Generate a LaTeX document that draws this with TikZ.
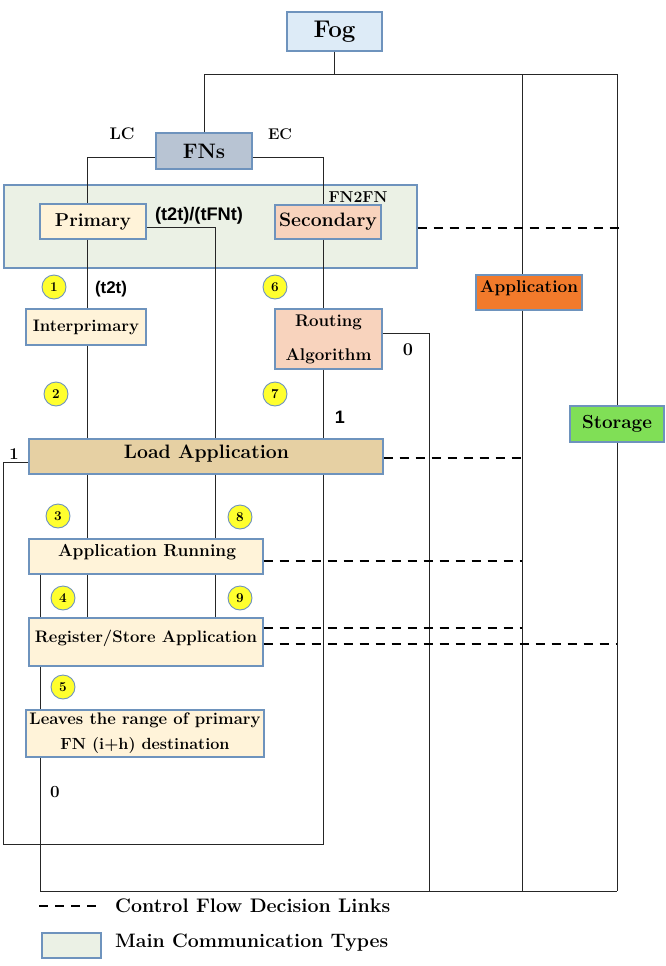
\documentclass[tikz,border=0pt]{standalone}
\usepackage{fontspec}
\usepackage{graphicx}
\newfontfamily\sansbf{Liberation Sans}
\definecolor{bordc}{HTML}{6E93BD}
\definecolor{fogc}{HTML}{DDEBF7}
\definecolor{fnsc}{HTML}{B8C4D3}
\definecolor{grpc}{HTML}{EBF1E5}
\definecolor{cream}{HTML}{FFF3D9}
\definecolor{peach}{HTML}{F8D3BD}
\definecolor{orng}{HTML}{F27A2B}
\definecolor{storc}{HTML}{80DF56}
\definecolor{loadc}{HTML}{E6D0A3}
\definecolor{yel}{HTML}{FFFF2E}
\newcommand{\fsz}[2]{\fontsize{#1}{#2}\selectfont\bfseries}
\newcommand{\fitw}[2]{\resizebox{#1}{!}{#2}}
\tikzset{
  ln/.style={line width=1pt, draw=black!85},
  dsh/.style={line width=2.6pt, draw=black, dash pattern=on 9pt off 7pt},
  bx/.style={draw=bordc, line width=1.3pt, inner sep=0pt, align=center},
  num/.style={circle, draw=bordc, fill=yel, line width=0.9pt, minimum size=24pt, inner sep=0pt, font=\fsz{13.5}{14}},
  lbl/.style={inner sep=0pt, align=center, font=\fsz{18}{20}},
}
\begin{document}
\begin{tikzpicture}[x=1pt,y=-1pt]
\useasboundingbox (0,0) rectangle (665,966);
% group box
\node[bx, fill=grpc, minimum width=413pt, minimum height=83pt] (grp) at (210.5,226.5) {};
% boxes
\node[bx, fill=fogc, minimum width=95pt, minimum height=39pt, font=\fsz{22}{24}] (fog) at (334.5,31.5) {\fitw{42pt}{Fog}};
\node[bx, fill=fnsc, minimum width=96pt, minimum height=36pt, font=\fsz{21}{24}] (fns) at (204,151) {\fitw{42.5pt}{FNs}};
\node[bx, fill=cream, minimum width=106pt, minimum height=35pt, font=\fsz{18}{20}] (prim) at (93,221.5) {\fitw{76pt}{Primary}};
\node[bx, fill=peach, minimum width=106pt, minimum height=34pt, font=\fsz{18}{20}] (sec) at (328,222) {\fitw{98pt}{Secondary}};
\node[bx, fill=cream, minimum width=120pt, minimum height=36pt, font=\fsz{16}{18}] (interp) at (86,327) {\fitw{106pt}{Interprimary}};
\node[bx, fill=peach, minimum width=107pt, minimum height=60pt, font=\fsz{16.5}{34}] (rout) at (328.5,339) {\fitw{67pt}{Routing}\\\fitw{86pt}{Algorithm}};
\node[bx, fill=orng, minimum width=106pt, minimum height=35pt] (app) at (529,292.5) {};
\node[lbl] (appT) at (529,288) {\fitw{98pt}{Application}};
\node[bx, fill=storc, minimum width=94pt, minimum height=36pt, font=\fsz{18}{20}] (stor) at (617,424) {\fitw{70pt}{Storage}};
\node[bx, fill=loadc, minimum width=354pt, minimum height=35pt] (load) at (206,456.5) {};
\node[lbl] (loadT) at (206.5,454) {\fitw{165pt}{Load Application}};
\node[bx, fill=cream, minimum width=234pt, minimum height=35pt] (run) at (146,556.5) {};
\node[lbl] (runT) at (147,552) {\fitw{178pt}{Application Running}};
\node[bx, fill=cream, minimum width=234pt, minimum height=48pt] (reg) at (146,642) {};
\node[lbl] (regT) at (146,638) {\fitw{222pt}{Register/Store Application}};
\node[bx, fill=cream, minimum width=238pt, minimum height=47pt, font=\fsz{16}{25}] (leave) at (145,733.5) {\fitw{231pt}{Leaves the range of primary}\\\fitw{169pt}{FN (i+h) destination}};
% coordinates
\coordinate (xL) at (87,0);
\coordinate (xT) at (215,0);
\coordinate (xS) at (323,0);
\coordinate (xK) at (40,0);
\coordinate (bus1) at (204,74);
\coordinate (busA) at (522,74);
\coordinate (busS) at (617,74);
\coordinate (loopC) at (3,844);
\coordinate (botL) at (40,891);
\coordinate (botR) at (429,891);
\coordinate (botA) at (522,891);
\coordinate (botS) at (617,891);
\coordinate (dashE) at (620,228);
% solid connectors
\draw[ln] (fog.south) -- (fog.south |- bus1);
\draw[ln] (fns.north) |- (busS) -- (stor.north);
\draw[ln] (busA) -- (busA |- app.north);
\draw[ln] (busA |- app.south) -- (botA);
\draw[ln] (stor.south) -- (botS);
\draw[ln] ([yshift=-6pt]fns.west) -| (xL |- prim.north);
\draw[ln] ([yshift=-6pt]fns.east) -| (xS |- sec.north);
\draw[ln] (xL |- prim.south) -- (xL |- interp.north);
\draw[ln] (xL |- interp.south) -- (xL |- load.north);
\draw[ln] (xL |- load.south) -- (xL |- run.north);
\draw[ln] (xL |- run.south) -- (xL |- reg.north);
\draw[ln] ([yshift=-5.5pt]prim.east) -| (xT |- load.north);
\draw[ln] (xT |- load.south) -- (xT |- run.north);
\draw[ln] (xT |- run.south) -- (xT |- reg.north);
\draw[ln] (xS |- sec.south) -- (xS |- rout.north);
\draw[ln] (xS |- rout.south) -- (xS |- load.north);
\draw[ln] (xS |- load.south) |- (loopC) |- ([yshift=-5.5pt]load.west);
\draw[ln] ([yshift=6pt]rout.east) -| (botR);
\draw[ln] (xK |- run.south) -- (xK |- reg.north);
\draw[ln] (xK |- reg.south) -- (xK |- leave.north);
\draw[ln] (xK |- leave.south) -- (botL) -- (botS);
% dashed control links
\draw[dsh] ([yshift=-1.5pt]grp.east) -- (dashE);
\draw[dsh] ([yshift=-1.5pt]load.east) -- (busA |- 0,458);
\draw[dsh] ([yshift=-4.5pt]run.east) -- (busA |- 0,561);
\draw[dsh] ([yshift=14pt]reg.east) -- (busA |- 0,628);
\draw[dsh] ([yshift=-2pt]reg.east) -- (busS |- 0,644);
% numbered circles
\node[num] (n1) at (54,287) {1};
\node[num] (n6) at (275,287) {6};
\node[num] (n2) at (56,394) {2};
\node[num] (n7) at (275,394) {7};
\node[num] (n3) at (58,516) {3};
\node[num] (n8) at (240,517) {8};
\node[num] (n4) at (63,598) {4};
\node[num] (n9) at (240,598) {9};
\node[num] (n5) at (63,687) {5};
% labels
\node[lbl] (lc) at (122,134) {\fitw{25pt}{LC}};
\node[lbl] (ec) at (280,134) {\fitw{24pt}{EC}};
\node[lbl] (fn2fn) at (358,197) {\fitw{59pt}{FN2FN}};
\node[lbl, font=\sansbf\fsz{16}{18}] (t2tfnt) at (199,216) {\fitw{88pt}{(t2t)/(tFNt)}};
\node[lbl, font=\sansbf\fsz{16}{18}] (t2t) at (111,289) {\fitw{32pt}{(t2t)}};
\node[lbl, font=\fsz{18}{18}] (zero1) at (408,350) {0};
\node[lbl, font=\sansbf\fsz{18}{18}] (one1) at (340,417) {1};
\node[lbl, font=\fsz{16.5}{18}] (one2) at (14,454) {1};
\node[lbl, font=\fsz{17}{18}] (zero2) at (55,792) {0};
% legend
\coordinate (lg1) at (39,906);
\coordinate (lg2) at (101,906);
\draw[dsh] (lg1) -- (lg2);
\node[lbl, anchor=west] (lgt1) at (115,906) {\fitw{275pt}{Control Flow Decision Links}};
\node[bx, fill=grpc, minimum width=59pt, minimum height=25pt] (lgbox) at (71.5,945.5) {};
\node[lbl, anchor=west] (lgt2) at (115,943) {\fitw{273pt}{Main Communication Types}};
\end{tikzpicture}
\end{document}
